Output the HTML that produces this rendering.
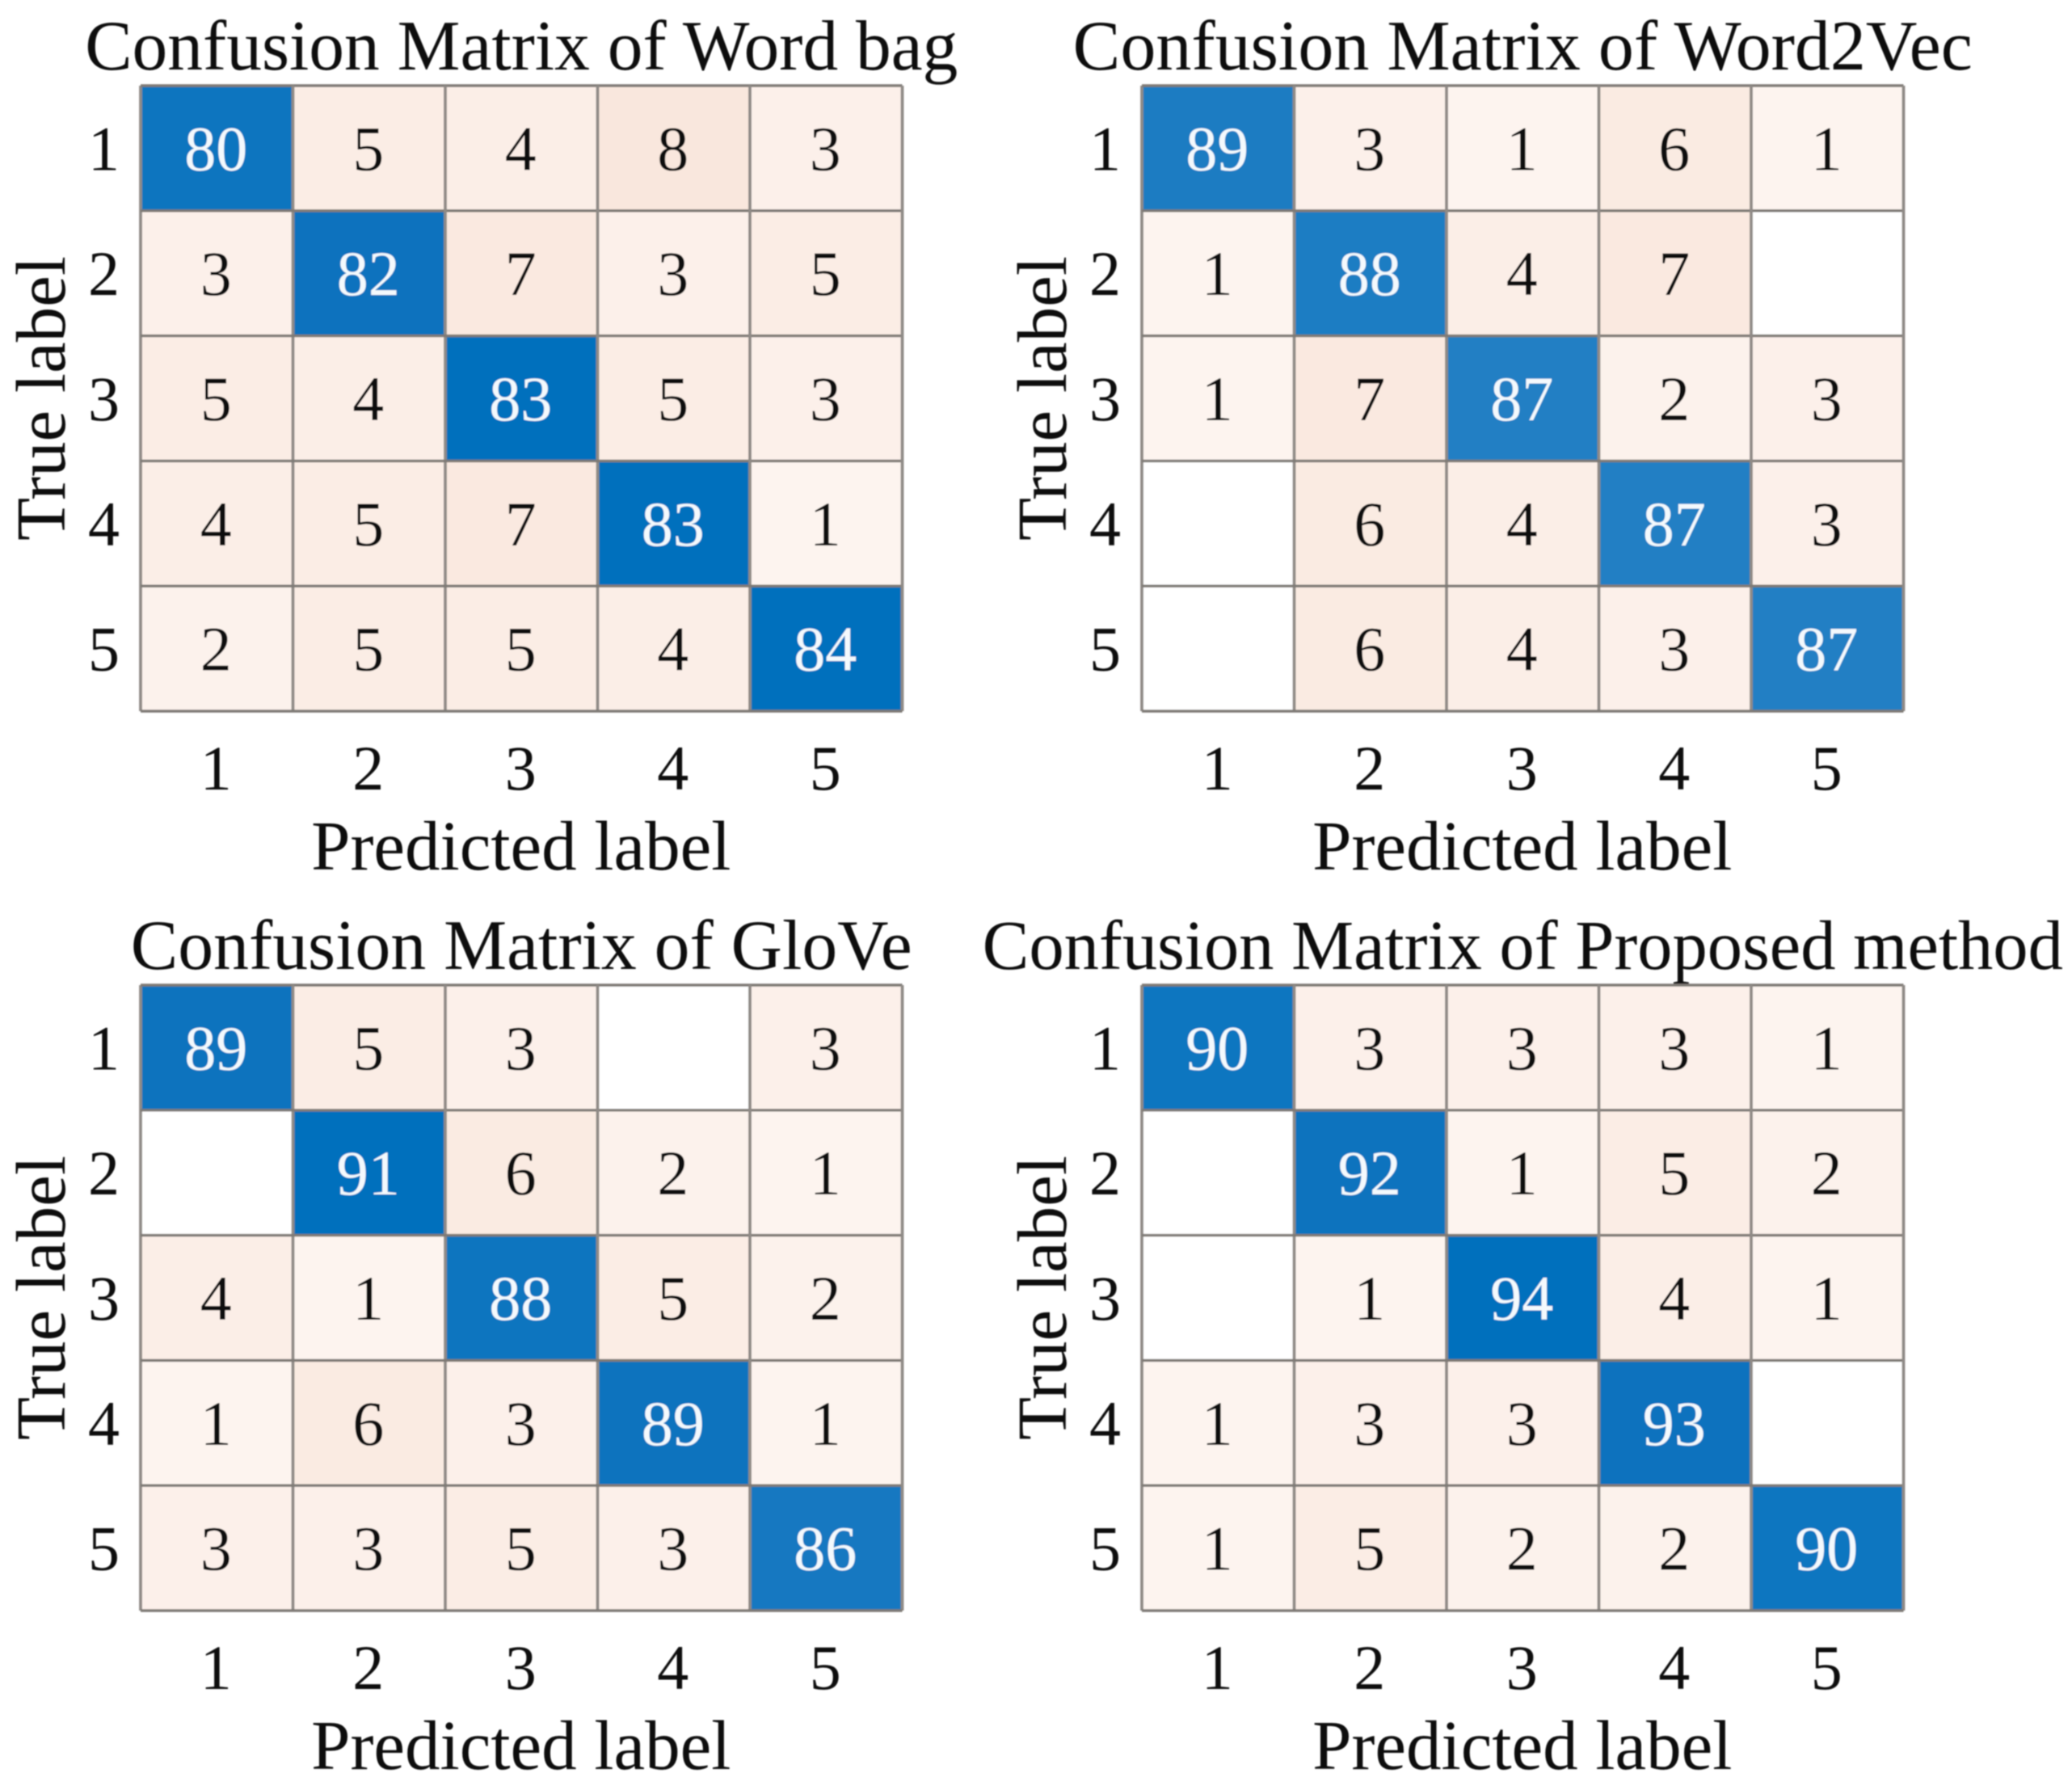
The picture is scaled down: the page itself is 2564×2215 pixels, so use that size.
<!DOCTYPE html>
<html lang="en">
<head>
<meta charset="utf-8">
<title>Confusion Matrices</title>
<style>
html,body{margin:0;padding:0;background:#fff;width:2564px;height:2215px;overflow:hidden}
svg{display:block}
text{font-family:"Liberation Serif","Times New Roman",serif;fill:#111111}
</style>
</head>
<body>
<svg id="figure" xmlns="http://www.w3.org/2000/svg" width="2564" height="2215" viewBox="0 0 2564 2215">
<defs><filter id="soft" x="-5%" y="-5%" width="110%" height="110%"><feGaussianBlur stdDeviation="0.7"/></filter></defs>
</svg>
<script>
const classLabels = ['1', '2', '3', '4', '5'];
const xAxisTitle = 'Predicted label';
const yAxisTitle = 'True label';
const panelTitles = [
  'Confusion Matrix of Word bag',
  'Confusion Matrix of Word2Vec',
  'Confusion Matrix of GloVe',
  'Confusion Matrix of Proposed method'
];
const wordBagValues = [
  [80, 5, 4, 8, 3],
  [3, 82, 7, 3, 5],
  [5, 4, 83, 5, 3],
  [4, 5, 7, 83, 1],
  [2, 5, 5, 4, 84]
];
const word2VecValues = [
  [89, 3, 1, 6, 1],
  [1, 88, 4, 7, 0],
  [1, 7, 87, 2, 3],
  [0, 6, 4, 87, 3],
  [0, 6, 4, 3, 87]
];
const gloVeValues = [
  [89, 5, 3, 0, 3],
  [0, 91, 6, 2, 1],
  [4, 1, 88, 5, 2],
  [1, 6, 3, 89, 1],
  [3, 3, 5, 3, 86]
];
const proposedValues = [
  [90, 3, 3, 3, 1],
  [0, 92, 1, 5, 2],
  [0, 1, 94, 4, 1],
  [1, 3, 3, 93, 0],
  [1, 5, 2, 2, 90]
];
const panelMatrices = [wordBagValues, word2VecValues, gloVeValues, proposedValues];
const panelFullScale = [83, 97, 91, 94];

const NS = 'http://www.w3.org/2000/svg';
const svg = document.getElementById('figure');
const frameLeft = [174, 1413];
const frameTop = [106, 1219];
const frameW = 942.5;
const frameH = 774;
const titleSizes = [87.5, 88, 87.7, 86.6];
const n = classLabels.length;

function lerp(a, b, t) { return Math.round(a + (b - a) * t); }
function rgb(r, g, b) { return 'rgb(' + r + ',' + g + ',' + b + ')'; }
function cellColor(v, isDiag, full) {
  if (v === 0) return '#ffffff';
  if (isDiag) {
    const t = Math.min(1, v / full);
    return rgb(lerp(255, 6, t), lerp(255, 112, t), lerp(255, 189, t));
  }
  const t = (v - 1) / 7;
  return rgb(lerp(253, 249, t), lerp(244, 231, t), lerp(239, 221, t));
}
function make(tag, parent) {
  const el = document.createElementNS(NS, tag);
  parent.appendChild(el);
  return el;
}
function setText(el, x, y, size, anchor, str) {
  el.setAttribute('x', x);
  el.setAttribute('y', y);
  el.setAttribute('font-size', size);
  el.setAttribute('text-anchor', anchor);
  el.textContent = str;
}

panelMatrices.forEach(function (matrix, p) {
  const x0 = frameLeft[p % 2];
  const y0 = frameTop[Math.floor(p / 2)];
  const cw = frameW / n;
  const ch = frameH / n;
  const scaleX = function (c) { return x0 + c * cw; };
  const scaleY = function (r) { return y0 + r * ch; };

  const g = make('g', svg);
  
  
  g.setAttribute('filter', 'url(#soft)');

  const title = make('text', g);
  
  
  setText(title, x0 + frameW / 2, y0 - 20, titleSizes[p], 'middle', panelTitles[p]);

  matrix.forEach(function (row, r) {
    row.forEach(function (v, c) {
      const rect = make('rect', g);
      
      
      rect.setAttribute('x', scaleX(c));
      rect.setAttribute('y', scaleY(r));
      rect.setAttribute('width', cw);
      rect.setAttribute('height', ch);
      rect.setAttribute('fill', cellColor(v, r === c, panelFullScale[p]));
    });
  });

  for (let i = 0; i <= n; i++) {
    const vLine = make('line', g);
    
    
    vLine.setAttribute('x1', scaleX(i));
    vLine.setAttribute('x2', scaleX(i));
    vLine.setAttribute('y1', y0);
    vLine.setAttribute('y2', y0 + frameH);
    vLine.setAttribute('stroke', '#8f8a86');
    vLine.setAttribute('stroke-width', 3.8);
    const hLine = make('line', g);
    
    
    hLine.setAttribute('x1', x0);
    hLine.setAttribute('x2', x0 + frameW);
    hLine.setAttribute('y1', scaleY(i));
    hLine.setAttribute('y2', scaleY(i));
    hLine.setAttribute('stroke', '#7f7a76');
    hLine.setAttribute('stroke-width', 3.4);
  }

  matrix.forEach(function (row, r) {
    row.forEach(function (v, c) {
      if (v === 0) return;
      const label = make('text', g);
      
      
      setText(label, scaleX(c) + cw / 2 - 1, scaleY(r) + ch / 2 + 27, 78, 'middle', String(v));
      if (r === c) label.setAttribute('style', 'fill:#f4f9fd');
    });
  });

  classLabels.forEach(function (name, i) {
    const xt = make('text', g);
    
    
    setText(xt, scaleX(i) + cw / 2 - 1, y0 + frameH + 97, 78, 'middle', name);
    const yt = make('text', g);
    
    
    setText(yt, x0 - 26, scaleY(i) + ch / 2 + 27, 78, 'end', name);
  });

  const xTitle = make('text', g);
  
  
  setText(xTitle, x0 + frameW / 2 - 0.5, y0 + frameH + 196, 87, 'middle', xAxisTitle);

  const yTitle = make('text', g);
  
  
  const yx = x0 - 94;
  const yy = y0 + frameH / 2;
  setText(yTitle, yx, yy, 87, 'middle', yAxisTitle);
  yTitle.setAttribute('transform', 'rotate(-90 ' + yx + ' ' + yy + ')');
});
</script>
</body>
</html>
